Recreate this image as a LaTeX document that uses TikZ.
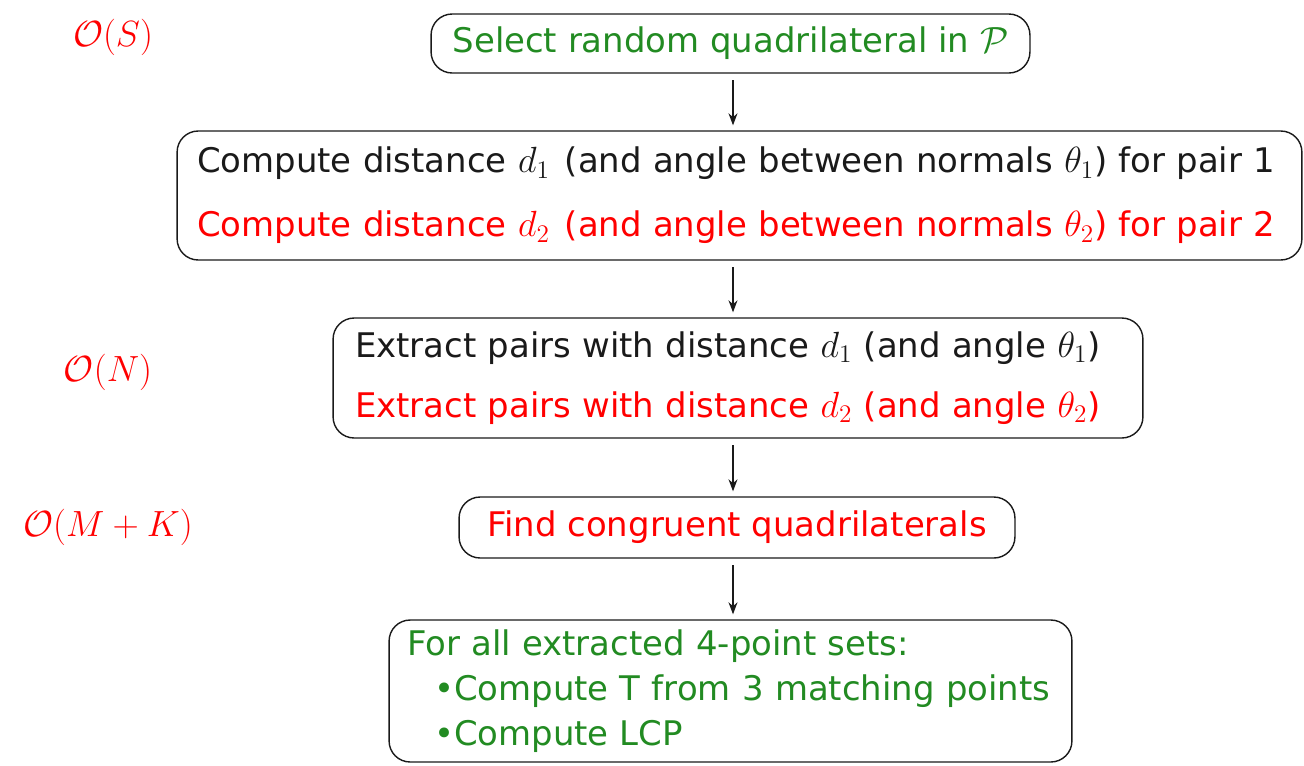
\documentclass[tikz,border=0pt]{standalone}
\usepackage{amsmath,amssymb}
\usepackage{fontspec}
\setmainfont{DejaVu Sans}
\usetikzlibrary{arrows.meta,positioning,calc}
\definecolor{leafgreen}{HTML}{228B22}
\definecolor{hotred}{HTML}{FF0000}
\definecolor{inkblack}{HTML}{1A1A1A}
\tikzset{
  boxy/.style   = {rounded corners=12pt, draw=inkblack, line width=0.8pt,
                   fill=white, align=left, inner ysep=0pt},
  cost/.style   = {text=hotred, font=\fontsize{21.5}{24}\selectfont},
  flow/.style   = {-{Stealth[length=2.4mm,width=1.8mm]}, draw=inkblack, line width=0.7pt,
                   shorten <=0.13cm, shorten >=0.1cm},
}

\begin{document}
\begin{tikzpicture}[x=0.02cm,y=-0.02cm]
  \useasboundingbox (0,0) rectangle (1304,765);
  \node[boxy,align=center,minimum width=11.98cm,minimum height=1.18cm,text=leafgreen,
        font=\fontsize{19.3}{23}\selectfont] (sel) at (730.5,43.5)
        {Select random quadrilateral in $\mathcal{P}$};
  \node[boxy,inner xsep=0.4cm,text width=21.7cm,minimum height=2.58cm,
        font=\fontsize{19.3}{36.3}\selectfont] (dist) at (739.5,195.5)
        {\textcolor{inkblack}{Compute distance $d_1$\hspace{0.3cm}(and angle between normals $\theta_1$) for pair 1}\\
         \textcolor{hotred}{Compute distance $d_2$\hspace{0.3cm}(and angle between normals $\theta_2$) for pair 2}};
  \node[boxy,inner xsep=0.44cm,text width=15.32cm,minimum height=2.4cm,
        font=\fontsize{19.3}{34}\selectfont] (extr) at (738,378)
        {\textcolor{inkblack}{Extract pairs with distance $d_1$ (and angle $\theta_1$)}\\
         \textcolor{hotred}{Extract pairs with distance $d_2$ (and angle $\theta_2$)}};
  \node[boxy,align=center,minimum width=11.12cm,minimum height=1.22cm,text=hotred,
        font=\fontsize{19.3}{23}\selectfont] (cong) at (737,527.5)
        {Find congruent quadrilaterals};
  \node[boxy,inner xsep=0.36cm,text width=12.94cm,minimum height=2.84cm,text=leafgreen,
        font=\fontsize{19.3}{25.5}\selectfont] (all) at (730.5,691)
        {For all extracted 4-point sets:\\
         \hspace*{0.54cm}•Compute T from 3 matching points\\
         \hspace*{0.54cm}•Compute LCP};
  % complexity of each step
  \node[cost] (cs) at (113,37) {$\mathcal{O}(S)$};
  \node[cost] (cn) at (108,372) {$\mathcal{O}(N)$};
  \node[cost] (cmk) at (108,527) {$\mathcal{O}(M+K)$};
  % arrows
  \coordinate (ax) at (733,0);
  \draw[flow] (sel.south -| ax) -- (dist.north -| ax);
  \draw[flow] (dist.south -| ax) -- (extr.north -| ax);
  \draw[flow] (extr.south -| ax) -- (cong.north -| ax);
  \draw[flow] (cong.south -| ax) -- (all.north -| ax);
\end{tikzpicture}
\end{document}
